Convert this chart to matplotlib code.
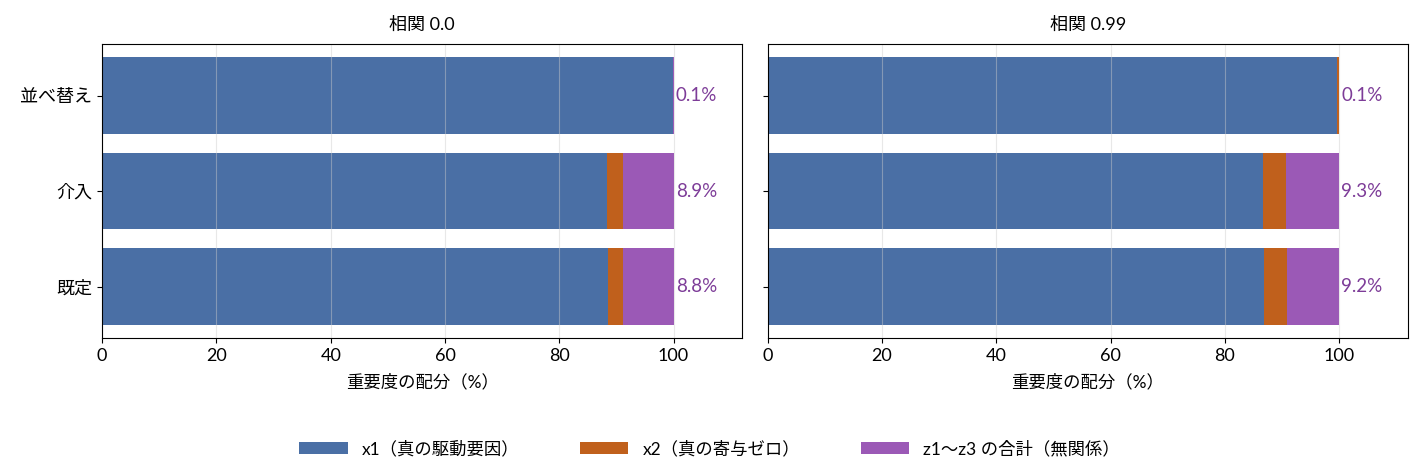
import numpy as np
import matplotlib
matplotlib.use("Agg")
import matplotlib.pyplot as plt

plt.rcParams['font.family'] = ['Lato', 'Noto Sans CJK JP', 'DejaVu Sans']

# data
methods = ['既定', '介入', '並べ替え']
panel_titles = ['相関 0.0', '相関 0.99']
x1_vals = [[88.6, 88.3, 99.9], [86.8, 86.6, 99.6]]
x2_vals = [[2.6, 2.8, 0.0], [4.0, 4.1, 0.3]]
z_vals = [[8.8, 8.9, 0.1], [9.2, 9.3, 0.1]]
series_names = ['x1（真の駆動要因）', 'x2（真の寄与ゼロ）', 'z1〜z3 の合計（無関係）']
colors = ['#4a6fa5', '#c0601c', '#9b59b6']
label_color = '#7d3c98'

fig, axes = plt.subplots(1, 2, figsize=(14.19, 4.73), dpi=100, sharey=True)
y = np.arange(len(methods))
for i, ax in enumerate(axes):
    a = np.array(x1_vals[i])
    b = np.array(x2_vals[i])
    c = np.array(z_vals[i])
    ax.barh(y, a, height=0.8, color=colors[0], label=series_names[0])
    ax.barh(y, b, left=a, height=0.8, color=colors[1], label=series_names[1])
    ax.barh(y, c, left=a + b, height=0.8, color=colors[2], label=series_names[2])
    for yy, tot, zz in zip(y, a + b + c, c):
        ax.text(tot + 0.4, yy, f'{zz:.1f}%', va='center', ha='left',
                color=label_color, fontsize=13.5)
    ax.set_xlim(0, 112)
    ax.set_yticks(y)
    ax.set_yticklabels(methods)
    ax.grid(axis='x', color='#cccccc', alpha=0.45)
    ax.set_title(panel_titles[i], fontsize=13, pad=10)
    ax.set_xlabel('重要度の配分（%）', fontsize=12.5, labelpad=7)
    ax.tick_params(labelsize=13)

handles, labels = axes[0].get_legend_handles_labels()
fig.legend(handles, labels, loc='lower center', ncol=3, frameon=False,
           fontsize=12.5, bbox_to_anchor=(0.5, 0.0), columnspacing=3.5,
           handlelength=2.8)
fig.subplots_adjust(left=0.072, right=0.992, top=0.907, bottom=0.285, wspace=0.04)
fig.savefig('out.png', dpi=100)
